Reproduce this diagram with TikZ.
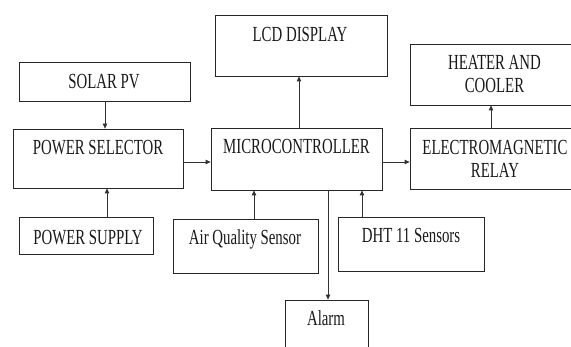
\documentclass[tikz,border=0pt]{standalone}
\usepackage{fontspec}
\setmainfont{Liberation Serif}
\usetikzlibrary{fit,arrows.meta}
\tikzset{
  box/.style={draw=black!85, line width=0.8pt, inner sep=0pt},
  lbl/.style={anchor=base, inner sep=0pt, font=\fontsize{21.5}{23}\selectfont, text=black!90},
  arr/.style={draw=black!80, line width=0.8pt, -{Triangle[length=5pt,width=4.5pt]}},
}
\newcommand{\sq}[1]{\scalebox{0.69}[1]{#1}}
\begin{document}
\begin{tikzpicture}[x=1pt,y=-1pt]
\useasboundingbox[fill=white] (0,0) rectangle (571,347);
% boxes
\node[box, fit={(19,62) (190,101)}] (solar) {};
\node[box, fit={(13,129) (183,188)}] (ps) {};
\node[box, fit={(19,217) (153,254)}] (supply) {};
\node[box, fit={(215,15) (387,76)}] (lcd) {};
\node[box, fit={(211,128) (382,190)}] (mc) {};
\node[box, fit={(173,219) (318,273)}] (aq) {};
\node[box, fit={(285,300) (368,365)}] (alarm) {};
\node[box, fit={(338,217) (484,271)}] (dht) {};
\node[box, fit={(410,44) (582,105)}] (heater) {};
\node[box, fit={(410,128) (582,189)}] (em) {};
% labels
\node[lbl] (tsolar) at (104,89) {\sq{SOLAR PV}};
\node[lbl] (tps) at (98,155) {\sq{POWER SELECTOR}};
\node[lbl] (tsupply) at (88,245) {\sq{POWER SUPPLY}};
\node[lbl] (tlcd) at (300,42) {\sq{LCD DISPLAY}};
\node[lbl] (tmc) at (296.5,154) {\sq{MICROCONTROLLER}};
\node[lbl] (taq) at (245,245) {\sq{Air Quality Sensor}};
\node[lbl] (talarm) at (326,326) {\sq{Alarm}};
\node[lbl] (tdht) at (411,243) {\sq{DHT 11 Sensors}};
\node[lbl] (theat1) at (494.5,70) {\sq{HEATER AND}};
\node[lbl] (theat2) at (494.5,93) {\sq{COOLER}};
\node[lbl] (tem1) at (495,155) {\sq{ELECTROMAGNETIC}};
\node[lbl] (tem2) at (495,178) {\sq{RELAY}};
% connectors
\draw[arr] (solar.south -| 105,0) -- (ps.north -| 105,0);
\draw[arr] (supply.north -| 107,0) -- (ps.south -| 107,0);
\draw[arr] (ps.east |- 0,162) -- (mc.west |- 0,162);
\draw[arr] (mc.north -| 299,0) -- (lcd.south -| 299,0);
\draw[arr] (aq.north -| 254,0) -- (mc.south -| 254,0);
\draw[arr] (mc.south -| 328,0) -- (alarm.north -| 328,0);
\draw[arr] (dht.north -| 362,0) -- (mc.south -| 362,0);
\draw[arr] (mc.east |- 0,162) -- (em.west |- 0,162);
\draw[arr] (em.north -| 491,0) -- (heater.south -| 491,0);
\end{tikzpicture}
\end{document}
